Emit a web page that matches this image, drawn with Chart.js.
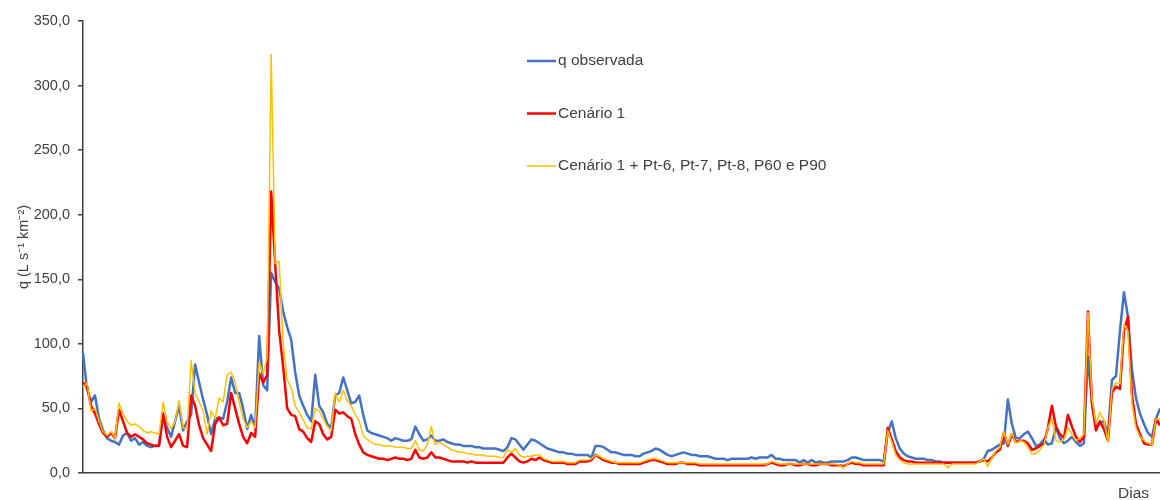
<!DOCTYPE html>
<html lang="pt">
<head>
<meta charset="utf-8">
<title>q observada x cenários</title>
<script src="https://cdn.jsdelivr.net/npm/chart.js@4/dist/chart.umd.min.js"></script>
<style>
  html, body { margin: 0; padding: 0; background: #fff; }
  #wrap { width: 1160px; height: 500px; position: relative; }
</style>
</head>
<body>
<div id="wrap"><canvas id="chart"></canvas></div>
<script>
// ── Dados (q em L s-1 km-2) ───────────────────────────────
const qObservada = [
  93, 65, 55, 60, 42, 33, 27, 25, 24, 22,
  29, 31, 25, 27, 22, 24, 21, 20, 21, 22,
  45, 35, 28, 40, 52, 33, 40, 45, 84, 70,
  57, 45, 30, 42, 43, 42, 55, 74, 62, 62,
  50, 34, 45, 35, 106, 68, 64, 155, 148, 143,
  125, 113, 103, 78, 60, 52, 45, 40, 76, 52,
  47, 38, 35, 60, 62, 74, 64, 54, 55, 60,
  45, 33, 31, 30, 29, 28, 27, 25, 27, 26,
  25, 25, 26, 36, 30, 25, 26, 29, 25, 25,
  26, 24, 23, 22, 22, 21, 21, 21, 20, 20,
  19, 19, 19, 19, 18, 17, 20, 27, 26, 22,
  18, 22, 26, 25, 23, 21, 19, 18, 17, 16,
  16, 15, 15, 14, 14, 14, 14, 12, 21, 21,
  20, 18, 16, 16, 15, 14, 14, 14, 13, 13,
  15, 16, 17, 19, 18, 16, 14, 13, 14, 15,
  16, 15, 14, 14, 13, 13, 13, 12, 11, 11,
  11, 10, 11, 11, 11, 11, 11, 12, 11, 12,
  12, 12, 14, 11, 11, 10, 10, 10, 10, 8,
  10, 8, 10, 8, 9, 8, 8, 9, 9, 9,
  9, 10, 12, 12, 11, 10, 10, 10, 10, 10,
  9, 31, 40, 27, 19, 15, 13, 12, 11, 11,
  11, 10, 10, 9, 9, 8, 8, 8, 8, 8,
  8, 8, 8, 8, 9, 11, 17, 18, 20, 22,
  23, 57, 38, 27, 27, 30, 32, 27, 21, 22,
  26, 22, 23, 35, 27, 23, 25, 28, 24, 21,
  23, 90, 55, 36, 39, 40, 30, 72, 75, 110,
  140, 121, 80, 58, 46, 38, 31, 28, 42, 50
];

const cenario1 = [
  70, 67, 52, 46, 38, 31, 28, 31, 27, 49,
  40, 31, 28, 30, 28, 26, 23, 22, 21, 21,
  46, 28, 20, 25, 30, 21, 20, 60, 52, 37,
  27, 22, 17, 38, 43, 37, 38, 62, 50, 38,
  28, 23, 31, 28, 77, 70, 76, 218, 162, 110,
  82, 50, 45, 44, 34, 32, 27, 24, 40, 38,
  30, 26, 28, 49, 46, 47, 44, 42, 30, 22,
  16, 14, 13, 12, 11, 11, 10, 11, 12, 11,
  11, 10, 11, 18, 12, 11, 12, 16, 12, 12,
  11, 10, 9, 9, 9, 9, 8, 9, 8, 8,
  8, 8, 8, 8, 8, 8, 12, 15, 12, 9,
  8, 9, 11, 10, 12, 10, 9, 8, 8, 8,
  8, 7, 7, 7, 9, 9, 9, 10, 14, 12,
  10, 9, 8, 8, 7, 7, 7, 7, 7, 7,
  8, 9, 10, 10, 9, 8, 7, 7, 7, 8,
  8, 7, 7, 7, 6, 6, 6, 6, 6, 6,
  6, 6, 6, 6, 6, 6, 6, 6, 6, 6,
  6, 7, 8, 7, 6, 6, 7, 7, 6, 6,
  7, 7, 6, 6, 7, 7, 7, 6, 6, 6,
  5, 7, 8, 7, 7, 6, 6, 6, 6, 6,
  6, 35, 26, 17, 12, 10, 9, 9, 8, 8,
  8, 8, 8, 8, 8, 8, 8, 8, 8, 8,
  8, 8, 8, 8, 9, 10, 9, 12, 16, 18,
  31, 21, 30, 24, 25, 25, 23, 18, 19, 21,
  23, 35, 52, 36, 30, 27, 45, 36, 28, 24,
  28, 125, 54, 33, 40, 34, 25, 62, 67, 65,
  110, 121, 60, 38, 30, 23, 22, 22, 42, 37
];

const cenario1Pt = [
  66, 70, 48, 50, 40, 32, 29, 32, 27, 54,
  46, 40, 37, 38, 36, 33, 31, 32, 31, 30,
  55, 40, 34, 40, 56, 35, 34, 87, 62, 55,
  48, 30, 48, 42, 58, 55, 76, 78, 70, 55,
  42, 35, 40, 35, 86, 77, 90, 324, 162, 164,
  100, 72, 66, 52, 47, 41, 35, 34, 50, 48,
  42, 36, 33, 62, 55, 64, 56, 52, 45, 40,
  29, 26, 24, 22, 22, 21, 21, 21, 20, 20,
  20, 19, 19, 25, 18, 17, 22, 36, 22, 24,
  22, 20, 18, 17, 16, 16, 15, 15, 14, 14,
  14, 13, 13, 13, 12, 12, 18, 16, 19, 14,
  12, 13, 13, 14, 14, 11, 10, 9, 9, 9,
  9, 8, 8, 8, 10, 10, 10, 11, 14, 13,
  11, 10, 9, 8, 8, 8, 8, 8, 8, 8,
  9, 10, 11, 11, 10, 9, 8, 8, 8, 8,
  8, 8, 8, 8, 7, 7, 7, 7, 7, 7,
  7, 7, 7, 7, 7, 7, 7, 7, 7, 7,
  7, 7, 9, 8, 7, 7, 7, 7, 7, 7,
  7, 7, 7, 7, 7, 7, 7, 7, 7, 6,
  4, 7, 9, 8, 8, 7, 7, 7, 7, 7,
  7, 33, 24, 14, 10, 8, 7, 7, 7, 7,
  7, 7, 7, 7, 7, 7, 4, 7, 7, 7,
  7, 7, 7, 7, 9, 11, 5, 12, 17, 20,
  32, 22, 31, 23, 25, 24, 20, 15, 15, 18,
  22, 35, 42, 25, 24, 26, 35, 30, 25, 27,
  30, 124, 58, 38, 47, 41, 24, 65, 70, 69,
  115, 110, 54, 35, 28, 25, 23, 22, 42, 42
];

const dias = qObservada.map((_, i) => i + 1);
const yTicks = { min: 0, max: 350, step: 50 };

const seriesLabels = ['q observada', 'Cenário 1', 'Cenário 1 + Pt-6, Pt-7, Pt-8, P60 e P90'];
const seriesColors = ['#4472C4', '#FF0000', '#FFC000'];

const FONT = "'Liberation Sans', Arial, sans-serif";
const TEXT = '#404040';
const AXIS = '#404040';

// ── Legenda dentro da área do gráfico + título "Dias" ─────
const innerLegend = {
  id: 'innerLegend',
  afterDraw(chart) {
    const ctx = chart.ctx;
    ctx.save();
    ctx.font = `15.5px ${FONT}`;
    ctx.textBaseline = 'middle';
    ctx.textAlign = 'left';
    chart.data.datasets.forEach((ds, i) => {
      const y = 61 + i * 52.5;
      ctx.strokeStyle = ds.borderColor;
      ctx.lineWidth = ds.borderWidth;
      ctx.beginPath();
      ctx.moveTo(527, y);
      ctx.lineTo(556, y);
      ctx.stroke();
      ctx.fillStyle = TEXT;
      ctx.fillText(ds.label, 558, y);
    });
    ctx.textAlign = 'right';
    ctx.fillText('Dias', 1149, 494);
    ctx.restore();
  }
};

new Chart(document.getElementById('chart'), {
  type: 'line',
  data: {
    labels: dias,
    datasets: [
      { label: seriesLabels[0], data: qObservada, borderColor: seriesColors[0], borderWidth: 2.5, order: 3 },
      { label: seriesLabels[1], data: cenario1,   borderColor: seriesColors[1], borderWidth: 2.5, order: 2 },
      { label: seriesLabels[2], data: cenario1Pt, borderColor: seriesColors[2], borderWidth: 1.5, order: 1 },
    ]
  },
  options: {
    responsive: true,
    maintainAspectRatio: false,
    animation: false,
    layout: { padding: { top: 21, right: 0, bottom: 0, left: 0 } },
    elements: {
      point: { radius: 0, hoverRadius: 0 },
      line: { tension: 0, fill: false, borderJoinStyle: 'round' }
    },
    plugins: {
      legend: { display: false },
      tooltip: { enabled: false }
    },
    scales: {
      x: {
        type: 'category',
        offset: false,
        ticks: { display: false },
        grid: { display: false },
        border: { display: true, color: AXIS, width: 1.5 },
        afterFit: s => { s.height = 27; }
      },
      y: {
        min: yTicks.min,
        max: yTicks.max,
        ticks: {
          stepSize: yTicks.step,
          padding: 8,
          color: TEXT,
          font: { family: FONT, size: 14.5 },
          callback: v => v.toFixed(1).replace('.', ',')
        },
        grid: { display: true, drawOnChartArea: false, drawTicks: true, tickLength: 5, color: AXIS, lineWidth: 1.5 },
        border: { display: true, color: AXIS, width: 1.5 },
        title: {
          display: true,
          text: 'q (L s⁻¹ km⁻²)',
          color: TEXT,
          font: { family: FONT, size: 14.5 },
          padding: { top: 15, bottom: 0 }
        },
        afterFit: s => { s.width = 83; }
      }
    }
  },
  plugins: [innerLegend]
});
</script>
</body>
</html>
